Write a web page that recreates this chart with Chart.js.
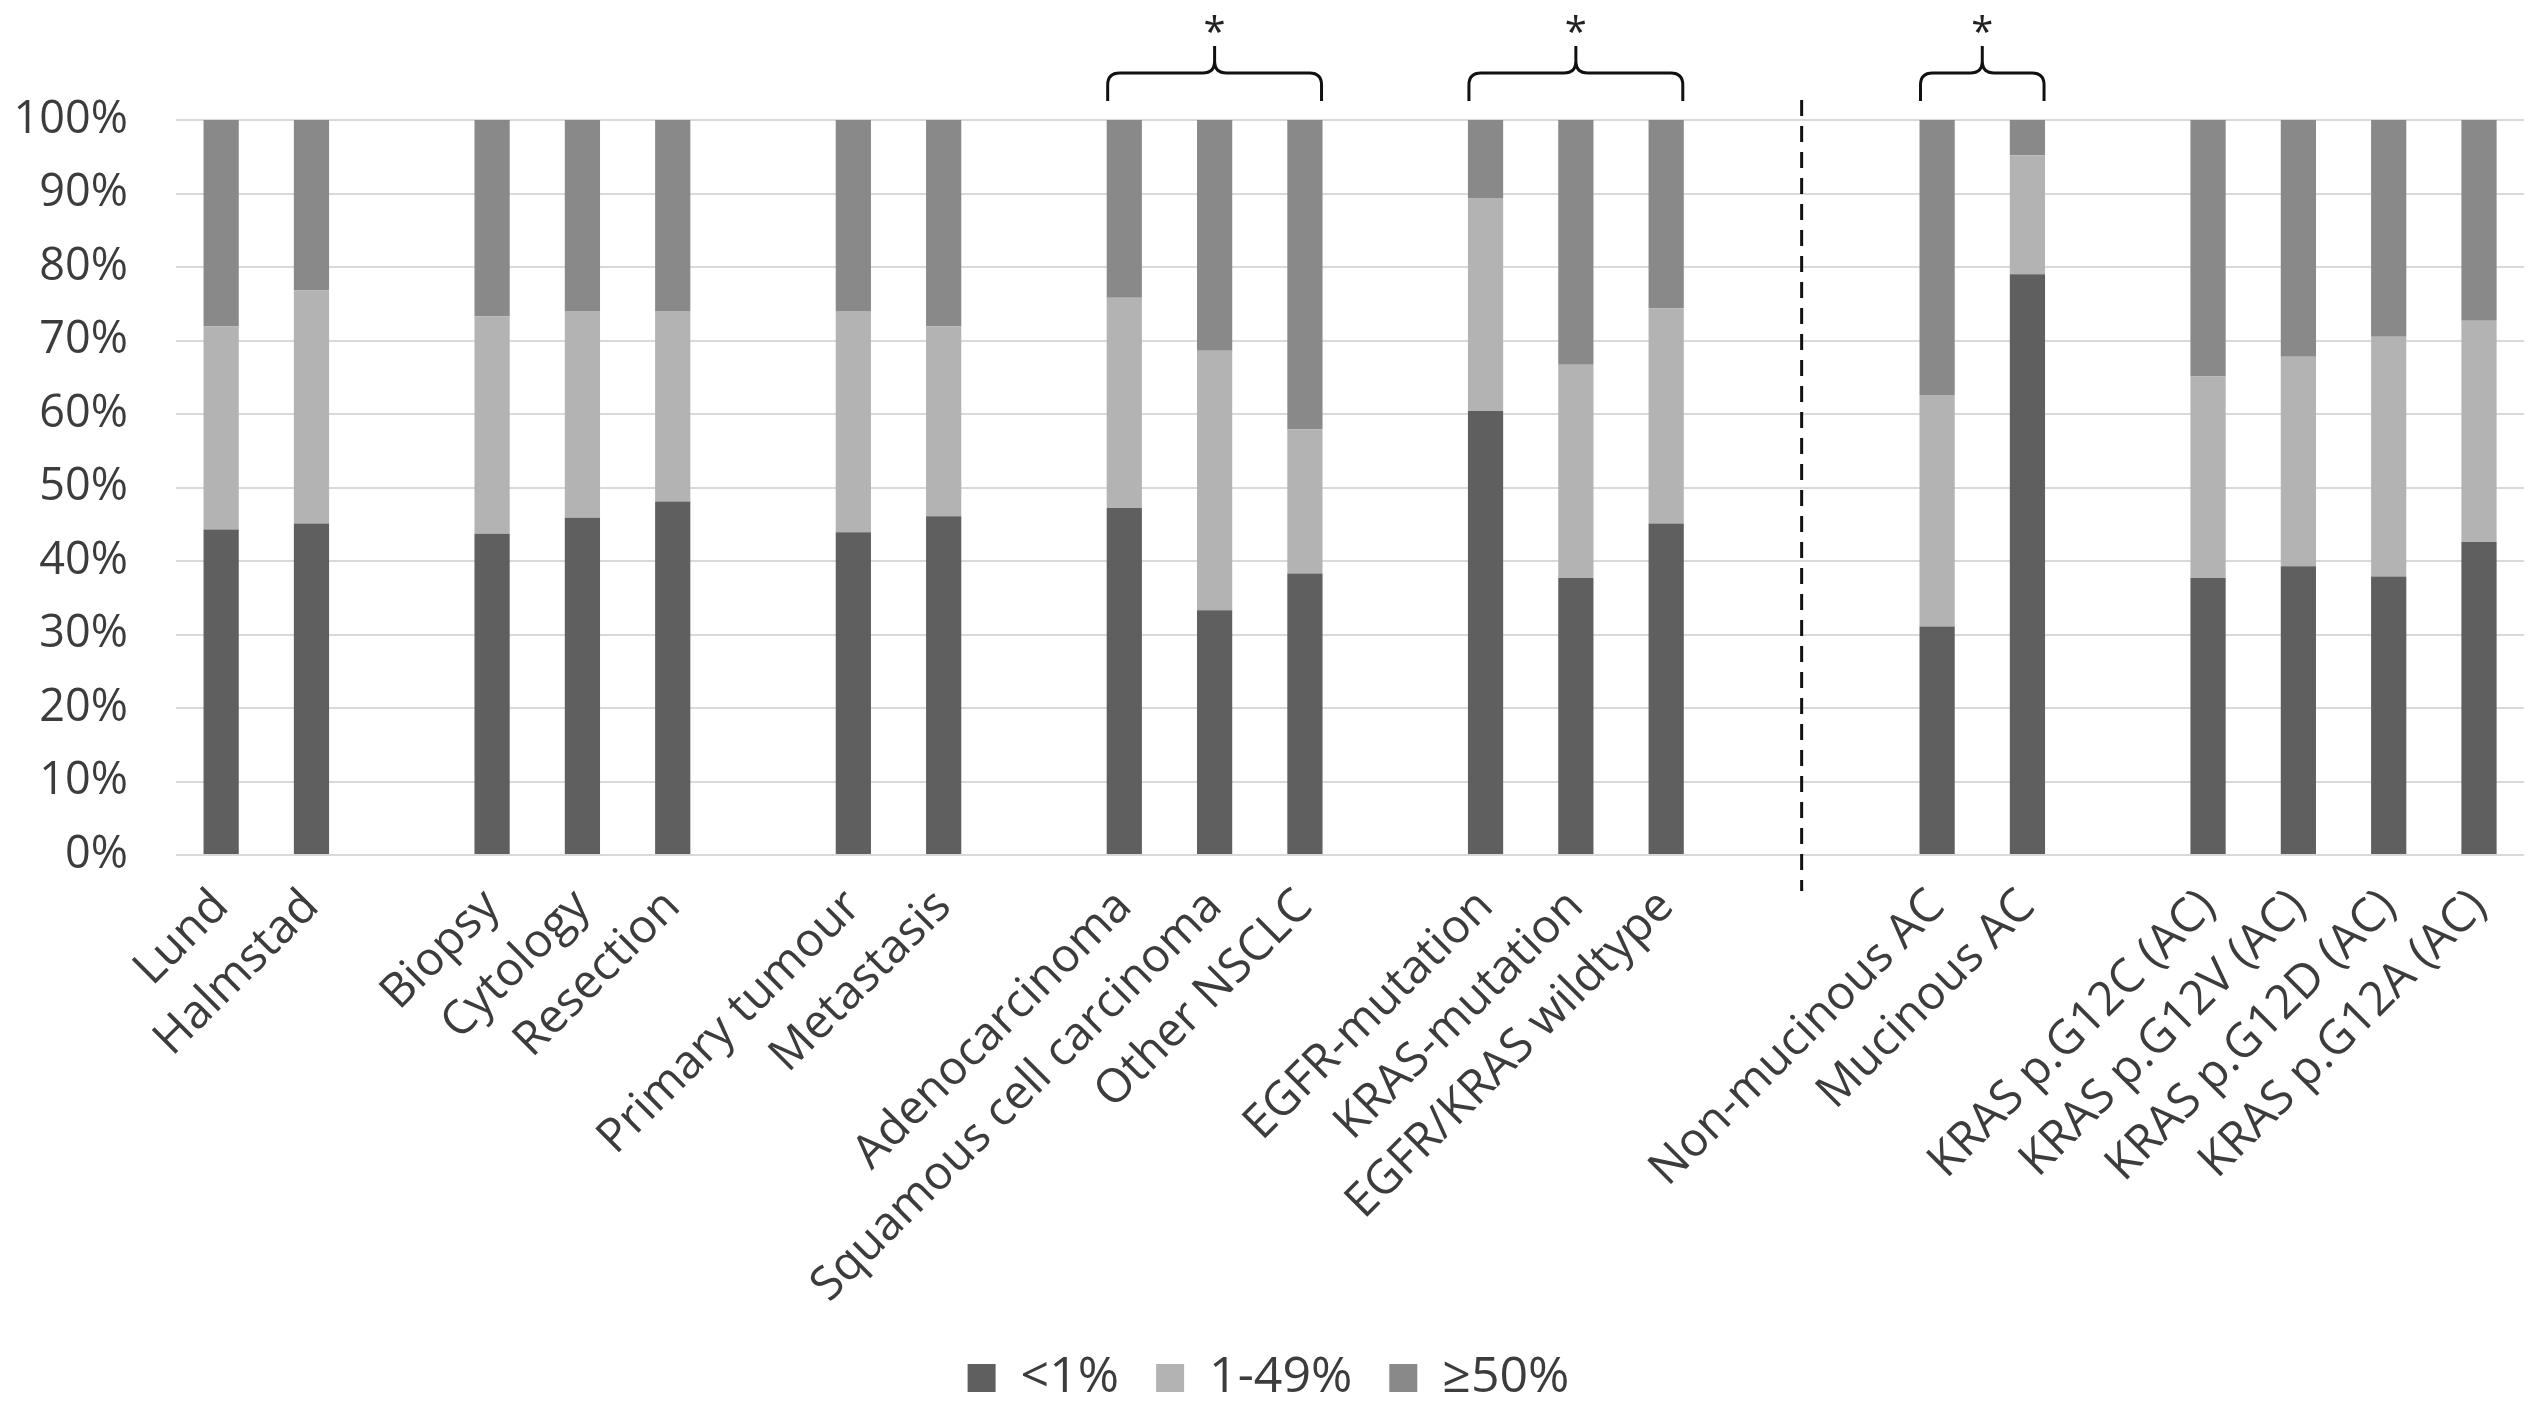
<!DOCTYPE html>
<html>
<head>
<meta charset="utf-8">
<script src="https://cdn.jsdelivr.net/npm/chart.js@4.4.1/dist/chart.umd.min.js"></script>
<style>
  html, body { margin: 0; padding: 0; background: #fff; }
  #wrap { width: 2543px; height: 1413px; position: relative; }
</style>
</head>
<body>
<div id="wrap"><canvas id="chart"></canvas></div>
<script>
// categories, "" entries are the empty gap slots between groups
const categories = [
  "Lund", "Halmstad", "",
  "Biopsy", "Cytology", "Resection", "",
  "Primary tumour", "Metastasis", "",
  "Adenocarcinoma", "Squamous cell carcinoma", "Other NSCLC", "",
  "EGFR-mutation", "KRAS-mutation", "EGFR/KRAS wildtype", "", "",
  "Non-mucinous AC", "Mucinous AC", "",
  "KRAS p.G12C (AC)", "KRAS p.G12V (AC)", "KRAS p.G12D (AC)", "KRAS p.G12A (AC)"
];

const seriesNames = ["<1%", "1-49%", "\u226550%"];

const lowValues = [
  44.3, 45.1, null,
  43.7, 45.9, 48.1, null,
  43.9, 46.1, null,
  47.2, 33.3, 38.3, null,
  60.4, 37.7, 45.1, null, null,
  31.1, 79.0, null,
  37.7, 39.3, 37.9, 42.6
];

const midValues = [
  27.6, 31.7, null,
  29.6, 28.1, 25.9, null,
  30.1, 25.8, null,
  28.6, 35.3, 19.6, null,
  29.0, 29.0, 29.3, null, null,
  31.5, 16.2, null,
  27.4, 28.5, 32.6, 30.1
];

const highValues = [
  28.1, 23.2, null,
  26.7, 26.0, 26.0, null,
  26.0, 28.1, null,
  24.2, 31.4, 42.1, null,
  10.6, 33.3, 25.6, null, null,
  37.4, 4.8, null,
  34.9, 32.2, 29.5, 27.3
];

// significance brackets: first and last category index of each group
const brackets = [[10, 12], [14, 16], [19, 20]];
// dashed separator sits between these two category slots
const separatorBetween = [17, 18];

const FONT = "\"Open Sans\", sans-serif";
const TEXT_COLOR = "#3c3c3c";

const annotationPlugin = {
  id: "annotations",
  afterDraw(chart) {
    const ctx = chart.ctx;
    const x = chart.scales.x;
    const area = chart.chartArea;
    const bars = chart.getDatasetMeta(0).data;

    // dashed separator
    const sx = (x.getPixelForValue(separatorBetween[0]) + x.getPixelForValue(separatorBetween[1])) / 2;
    ctx.save();
    ctx.strokeStyle = "#111";
    ctx.lineWidth = 3;
    ctx.setLineDash([16, 10]);
    ctx.beginPath();
    ctx.moveTo(sx, area.top - 20);
    ctx.lineTo(sx, area.bottom + 36);
    ctx.stroke();
    ctx.restore();

    // brackets with asterisk
    brackets.forEach(([from, to]) => {
      const left = bars[from].x - bars[from].width / 2 + 1;
      const right = bars[to].x + bars[to].width / 2 - 1;
      const mid = (left + right) / 2;
      const yEnd = area.top - 19;
      const yLine = area.top - 47;
      const yPeak = area.top - 74;
      const r = 12;

      ctx.save();
      ctx.strokeStyle = "#111";
      ctx.lineWidth = 3;
      ctx.beginPath();
      ctx.moveTo(left, yEnd);
      ctx.lineTo(left, yLine + r);
      ctx.quadraticCurveTo(left, yLine, left + r, yLine);
      ctx.lineTo(mid - r, yLine);
      ctx.quadraticCurveTo(mid, yLine, mid, yLine - r);
      ctx.lineTo(mid, yPeak);
      ctx.moveTo(mid, yLine - r);
      ctx.quadraticCurveTo(mid, yLine, mid + r, yLine);
      ctx.lineTo(right - r, yLine);
      ctx.quadraticCurveTo(right, yLine, right, yLine + r);
      ctx.lineTo(right, yEnd);
      ctx.stroke();

      ctx.fillStyle = "#222";
      ctx.font = "40px " + FONT;
      ctx.textAlign = "center";
      ctx.textBaseline = "alphabetic";
      ctx.fillText("*", mid, 46);
      ctx.restore();
    });
  }
};

new Chart(document.getElementById("chart"), {
  type: "bar",
  data: {
    labels: categories,
    datasets: [
      { label: seriesNames[0], data: lowValues, backgroundColor: "#5f5f5f" },
      { label: seriesNames[1], data: midValues, backgroundColor: "#b3b3b3" },
      { label: seriesNames[2], data: highValues, backgroundColor: "#898989" }
    ]
  },
  options: {
    animation: false,
    responsive: true,
    maintainAspectRatio: false,
    devicePixelRatio: 1,
    datasets: {
      bar: {
        barPercentage: 0.39,
        categoryPercentage: 1
      }
    },
    layout: {
      padding: { top: 120, right: 6, left: 0, bottom: 0 }
    },
    plugins: {
      legend: {
        position: "bottom",
        labels: {
          boxWidth: 28,
          boxHeight: 28,
          padding: 12,
          color: TEXT_COLOR,
          font: { family: FONT, size: 50 },
          generateLabels(chart) {
            // a trailing space widens the gap between legend entries
            const items = Chart.defaults.plugins.legend.labels.generateLabels(chart);
            return items.map((item, index) => {
              if (index < items.length - 1) {
                item.text = item.text + "\u2002";
              }
              return item;
            });
          }
        }
      },
      tooltip: { enabled: false }
    },
    scales: {
      x: {
        stacked: true,
        grid: { display: false, drawTicks: false },
        border: { display: false },
        ticks: {
          autoSkip: false,
          maxRotation: 45,
          minRotation: 45,
          padding: 24,
          color: TEXT_COLOR,
          font: { family: FONT, size: 47 }
        },
        afterFit(scale) {
          scale.height = 486;
        }
      },
      y: {
        stacked: true,
        min: 0,
        max: 100,
        grid: { color: "#d9d9d9", lineWidth: 2, drawTicks: false },
        border: { display: false },
        ticks: {
          stepSize: 10,
          padding: 48,
          color: TEXT_COLOR,
          font: { family: FONT, size: 45 },
          callback: (value) => value + "%"
        },
        afterFit(scale) {
          scale.width = 176;
        }
      }
    }
  },
  plugins: [annotationPlugin]
});
</script>
</body>
</html>
